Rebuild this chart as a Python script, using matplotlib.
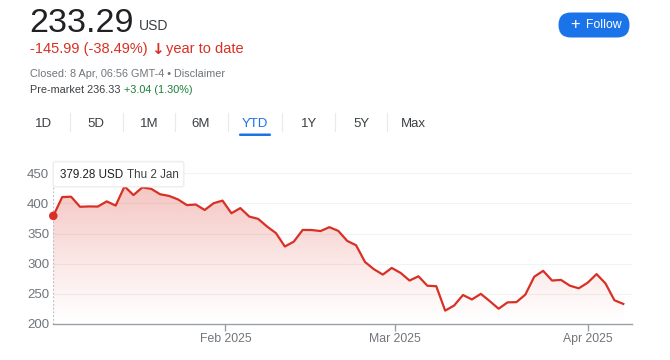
import numpy as np
import pandas as pd
import matplotlib
matplotlib.use("Agg")
import matplotlib.pyplot as plt
from matplotlib.patches import FancyBboxPatch

plt.rcParams['font.family'] = ['Liberation Sans', 'DejaVu Sans']

# trading days YTD (NYSE closed 9 Jan, 20 Jan, 17 Feb)
holidays = ['2025-01-09', '2025-01-20', '2025-02-17']
dates = pd.bdate_range('2025-01-02', '2025-04-07').drop(pd.to_datetime(holidays))

closes = [379.28, 410.44, 411.05, 394.36, 394.94, 394.74, 403.31, 396.36, 428.22, 413.82,
          426.50, 424.07, 415.11, 412.38, 406.58, 397.15, 398.09, 389.10, 400.28, 404.60,
          383.68, 392.21, 378.17, 374.32, 361.62, 350.73, 328.50, 336.51, 355.94, 355.84,
          354.11, 360.56, 354.40, 337.80, 330.53, 302.80, 290.80, 281.95, 292.98,
          284.65, 272.04, 279.10, 263.45, 262.67, 222.15, 230.58, 248.09, 240.68, 249.98,
          238.01, 225.31, 235.86, 236.26, 248.71, 278.39, 288.14, 272.06, 273.13, 263.55,
          259.16,
          268.46, 282.76, 267.28, 239.43, 233.29]

month_ticks = ['2025-02-01', '2025-03-01', '2025-04-01']
month_labels = ['Feb 2025', 'Mar 2025', 'Apr 2025']
y_ticks = [200, 250, 300, 350, 400, 450]
tabs = ['1D', '5D', '1M', '6M', 'YTD', '1Y', '5Y', 'Max']

RED = '#d93025'
GREY = '#70757a'
BLUE = '#1a73e8'

x = np.arange(len(closes))
y = np.array(closes)
tick_pos = np.interp(pd.to_datetime(month_ticks).map(pd.Timestamp.toordinal),
                     dates.map(pd.Timestamp.toordinal), x)

fig = plt.figure(figsize=(6.7, 3.6), dpi=100)
fig.patch.set_facecolor('white')

# main chart: left 53px, right 632px, y=200 at 324px, y=460 at 167px
ax = fig.add_axes([53.3 / 670, 36 / 360, (632.2 - 53.3) / 670, 156.8 / 360])
ax.set_xlim(0, 65)
ax.set_ylim(200, 460)
ax.set_facecolor('none')
for s in ['top', 'right', 'left']:
    ax.spines[s].set_visible(False)
ax.spines['bottom'].set_color('#9aa0a6')
ax.spines['bottom'].set_linewidth(1)

for v in y_ticks[1:]:
    ax.axhline(v, color='#f1f3f4', lw=0.8, zorder=0)

# gradient fill under the line
grad = np.linspace(0, 1, 256)[:, None] ** 1.1
rgba = np.zeros((256, 1, 4))
rgba[..., :3] = matplotlib.colors.to_rgb(RED)
rgba[..., 3] = grad * 0.32
img = ax.imshow(rgba, extent=[0, 65, 200, 460], origin='lower', aspect='auto', zorder=1)
poly = ax.fill_between(x, y, 200, color='none', lw=0)
img.set_clip_path(poly.get_paths()[0], transform=ax.transData)

ax.plot(x, y, color=RED, lw=1.6, zorder=3, solid_joinstyle='round')
ax.plot([x[0], x[0]], [200, 446], color='#bdc1c6', lw=0.9, ls=(0, (1.5, 1.5)), zorder=2)
ax.scatter([x[0]], [y[0]], s=38, color=RED, zorder=4, edgecolors='none', clip_on=False)

ax.set_yticks(y_ticks)
ax.set_yticklabels([str(v) for v in y_ticks], color=GREY, fontsize=9.5)
ax.tick_params(axis='y', length=0, pad=3)
ax.set_xticks(tick_pos)
ax.set_xticklabels(month_labels, color=GREY, fontsize=8.8)
ax.tick_params(axis='x', length=5, width=1, color='#9aa0a6', pad=1.5)

# overlay in pixel coordinates for the page header
ov = fig.add_axes([0, 0, 1, 1], zorder=5)
ov.set_xlim(0, 670)
ov.set_ylim(360, 0)
ov.axis('off')

ov.text(29, 32, '233.29', fontsize=24.5, color='#202124', va='baseline')
ov.text(139, 30, 'USD', fontsize=10, color='#3c4043', va='baseline')
ov.text(30, 53, '-145.99 (-38.49%)', fontsize=10.5, color=RED, va='baseline')
ov.text(157.5, 53.5, '\u2193', fontsize=11, color=RED, va='baseline', ha='center',
        fontweight='bold', family='DejaVu Sans')
ov.text(166, 53, 'year to date', fontsize=10.5, color=RED, va='baseline')
ov.text(30, 77, 'Closed: 8 Apr, 06:56 GMT-4 \u2022 Disclaimer', fontsize=7.8, color=GREY,
        va='baseline')
ov.text(30, 93, 'Pre-market 236.33', fontsize=7.8, color='#3c4043', va='baseline')
ov.text(124, 93, '+3.04 (1.30%)', fontsize=7.8, color='#188038', va='baseline')

# Follow button
ov.add_patch(FancyBboxPatch((558.5, 12.5), 71, 25, boxstyle='round,pad=0,rounding_size=12.5',
                            fc=BLUE, ec='none'))
ov.text(575, 25, '+', fontsize=12, color='white', ha='center', va='center')
ov.text(586, 25, 'Follow', fontsize=8.8, color='white', va='center')

# range tabs
tab_x = [44, 96, 149, 201, 255, 309, 361, 413]
for i, (lbl, tx) in enumerate(zip(tabs, tab_x)):
    ov.text(tx, 127, lbl, fontsize=9.5, ha='center', va='baseline',
            color=BLUE if lbl == 'YTD' else '#3c4043')
    if i < len(tabs) - 1:
        sx = (tx + tab_x[i + 1]) / 2
        ov.plot([sx, sx], [113, 131], color='#e8eaed', lw=0.8)
ov.add_patch(FancyBboxPatch((239, 133.5), 32, 2.5, boxstyle='round,pad=0,rounding_size=1.2',
                            fc=BLUE, ec='none'))

# tooltip
ov.add_patch(FancyBboxPatch((53.5, 162), 130, 24.5, boxstyle='round,pad=0,rounding_size=2',
                            fc='none', ec='#e6e6e6', lw=1.8, alpha=0.5))
ov.add_patch(FancyBboxPatch((53.5, 162), 130, 24.5, boxstyle='round,pad=0,rounding_size=2',
                            fc='white', ec='#ededed', lw=0.6))
ov.text(60, 177.5, '379.28 USD', fontsize=8.4, color='#202124', va='baseline')
ov.text(127, 177.5, 'Thu 2 Jan', fontsize=8.4, color='#3c4043', va='baseline')

fig.savefig('out.png', dpi=100, facecolor='white')
